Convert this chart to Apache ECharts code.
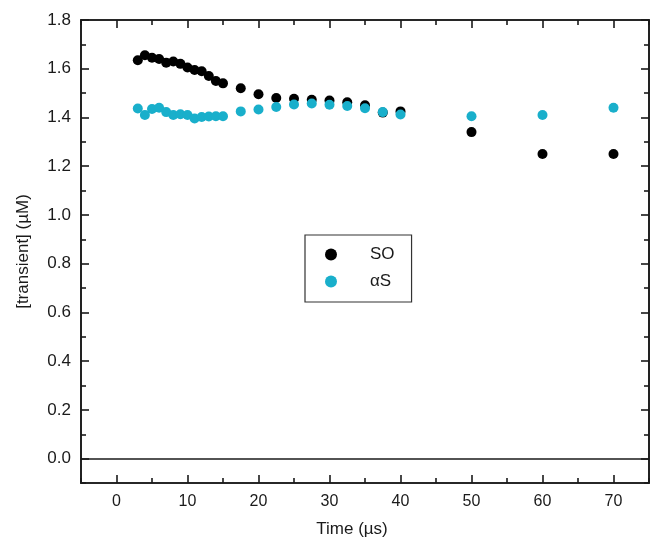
<!DOCTYPE html>
<html>
<head>
<meta charset="utf-8">
<script src="https://cdn.jsdelivr.net/npm/echarts@6/dist/echarts.min.js"></script>
<style>
  html, body { margin: 0; padding: 0; background: #fff; }
  #main { width: 650px; height: 546px; }
</style>
</head>
<body>
<div id="main"></div>
<script>
var dom = document.getElementById('main')
var chart = echarts.init(dom)

// time points (µs)
var times = [3, 4, 5, 6, 7, 8, 9, 10, 11, 12, 13, 14, 15,
    17.5, 20, 22.5, 25, 27.5, 30, 32.5, 35, 37.5, 40, 50, 60, 70];
// SO transient (µM)
var soValues = [1.635, 1.655, 1.645, 1.64, 1.625, 1.63, 1.62, 1.605, 1.595, 1.59, 1.57, 1.55, 1.54,
    1.52, 1.495, 1.48, 1.477, 1.473, 1.47, 1.462, 1.45, 1.42, 1.425, 1.34, 1.25, 1.25];
// αS transient (µM)
var asValues = [1.437, 1.41, 1.435, 1.44, 1.422, 1.41, 1.413, 1.41, 1.396, 1.402, 1.404, 1.405, 1.405,
    1.425, 1.433, 1.443, 1.453, 1.457, 1.452, 1.447, 1.438, 1.422, 1.412, 1.405, 1.41, 1.44];

var xMajor = [0, 10, 20, 30, 40, 50, 60, 70];
var xMinor = [-5, 5, 15, 25, 35, 45, 55, 65, 75];
var yMajor = [0, 0.2, 0.4, 0.6, 0.8, 1.0, 1.2, 1.4, 1.6, 1.8];
var yMinor = [-0.1, 0.1, 0.3, 0.5, 0.7, 0.9, 1.1, 1.3, 1.5, 1.7];

var font = 'Liberation Sans, Arial, sans-serif';
var ink = '#1a1a1a';
var rect = { left: 81, right: 1, top: 20, bottom: 63 };

function xAx(grid, pos, ticks, len, labels) {
    return {
        type: 'value', gridIndex: grid, position: pos, min: -5, max: 75,
        axisLine: { show: true, onZero: false, lineStyle: { color: ink, width: 1.6 } },
        axisTick: { show: true, inside: true, length: len, customValues: ticks, lineStyle: { color: ink, width: 1.6 } },
        axisLabel: labels ? {
            show: true, customValues: xMajor, margin: 11,
            fontFamily: font, fontSize: 16, color: ink
        } : { show: false },
        splitLine: { show: false }
    }
}

function yAx(grid, pos, ticks, len, labels) {
    return {
        type: 'value', gridIndex: grid, position: pos, min: -0.1, max: 1.8,
        axisLine: { show: true, onZero: false, lineStyle: { color: ink, width: 1.6 } },
        axisTick: { show: true, inside: true, length: len, customValues: ticks, lineStyle: { color: ink, width: 1.6 } },
        axisLabel: labels ? {
            show: true, customValues: yMajor, margin: 10,
            fontFamily: font, fontSize: 17, color: ink,
            formatter: function (v) { return v.toFixed(1) }
        } : { show: false },
        splitLine: { show: false }
    }
}

var xBottom = xAx(0, 'bottom', xMajor, 8, true);
xBottom.name = 'Time (µs)';
xBottom.nameLocation = 'middle';
xBottom.nameGap = 38;
xBottom.nameTextStyle = { fontFamily: font, fontSize: 17, color: ink, padding: [0, 26, 0, 0] };

var yLeft = yAx(0, 'left', yMajor, 8, true);
yLeft.name = '[transient] (µM)';
yLeft.nameLocation = 'middle';
yLeft.nameGap = 49;
yLeft.nameTextStyle = { fontFamily: font, fontSize: 17, color: ink };

var options = {
    backgroundColor: '#fff',
    animation: false,
    grid: [
        Object.assign({}, rect),
        Object.assign({}, rect)
    ],
    legend: {
        left: 305, top: 235,
        orient: 'vertical',
        data: ['SO', 'αS'],
        icon: 'circle',
        itemWidth: 20, itemHeight: 12,
        itemGap: 10,
        padding: [11, 17, 12, 20],
        borderColor: '#333', borderWidth: 1.2,
        textStyle: { fontFamily: font, fontSize: 17, color: ink, padding: [0, 0, 0, 24] }
    },
    xAxis: [
        xBottom,
        xAx(0, 'top', xMajor, 8, false),
        xAx(1, 'bottom', xMinor, 5, false),
        xAx(1, 'top', xMinor, 5, false)
    ],
    yAxis: [
        yLeft,
        yAx(0, 'right', yMajor, 8, false),
        yAx(1, 'left', yMinor, 5, false),
        yAx(1, 'right', yMinor, 5, false)
    ],
    series: [
        {
            name: 'SO', type: 'scatter', xAxisIndex: 0, yAxisIndex: 0,
            symbolSize: 10, itemStyle: { color: '#000', opacity: 1 },
            data: times.map((t, i) => [t, soValues[i]]),
            markLine: {
                silent: true, symbol: 'none', label: { show: false },
                lineStyle: { color: ink, width: 1.6, type: 'solid' },
                data: [{ yAxis: 0 }]
            }
        },
        {
            name: 'αS', type: 'scatter', xAxisIndex: 0, yAxisIndex: 0,
            symbolSize: 10, itemStyle: { color: '#19afcb', opacity: 1 },
            data: times.map((t, i) => [t, asValues[i]])
        }
    ]
}

chart.setOption(options)
</script>
</body>
</html>
